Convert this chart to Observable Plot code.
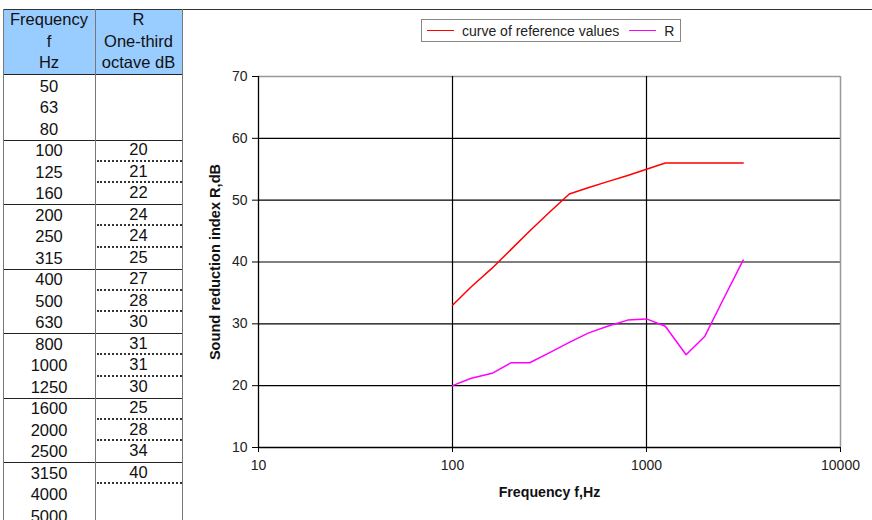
<!DOCTYPE html>
<html><head><meta charset="utf-8">
<script src="https://cdn.jsdelivr.net/npm/d3@7"></script>
<script src="https://cdn.jsdelivr.net/npm/@observablehq/plot@0.6"></script>
<style>
body{margin:0;background:#fff;font-family:"Liberation Sans",Arial,sans-serif;}
#page{position:relative;width:872px;height:520px;overflow:hidden;background:#fff;}
.cell{position:absolute;text-align:center;font-size:16.5px;color:#111;line-height:21.5px;white-space:nowrap;}
.ln{position:absolute;}
#legend{position:absolute;left:421px;top:19px;width:258px;height:21px;border:1px solid #888;background:#fff;display:flex;align-items:center;font-size:14px;color:#222;white-space:nowrap;}
#legend .sw{display:inline-block;width:27px;height:0;border-top:1.5px solid;}
#chart{position:absolute;left:183px;top:10px;}
</style></head><body><div id="page"><div id="chart"></div><div id="legend"></div></div>
<script>
// Table data
const tableFreq = [50,63,80,100,125,160,200,250,315,400,500,630,800,1000,1250,1600,2000,2500,3150,4000,5000];
const tableR = [null,null,null,20,21,22,24,24,25,27,28,30,31,31,30,25,28,34,40,null,null];
const headerFreq = ["Frequency","f","Hz"];
const headerR = ["R","One-third","octave dB"];
// Chart data
const chartFreq = [100,125,160,200,250,315,400,500,630,800,1000,1250,1600,2000,2500,3150];
const refValues = [33,36,39,42,45,48,51,52,53,54,55,56,56,56,56,56];
const rValues = [20,21.2,22,23.7,23.7,25.3,27,28.5,29.6,30.6,30.8,29.6,25,28,34.1,40.3];
const seriesNames = ["curve of reference values","R"];
const seriesColors = ["#FF0000","#FF00FF"];
const xTicks = [10,100,1000,10000];
const yTicks = [10,20,30,40,50,60,70];
const xTitle = "Frequency f,Hz";
const yTitle = "Sound reduction index R,dB";

const page = document.getElementById("page");
function add(cls, style, text){
  const d = document.createElement("div");
  d.className = cls;
  Object.assign(d.style, style);
  if (text != null) d.textContent = text;
  page.appendChild(d);
  return d;
}
// table geometry
const tL = 3, tM = 95, tR = 182, tTop = 9, hBot = 75, rowH = 21.5;
add("ln", {left:tL+"px", top:tTop+"px", width:(tR-tL)+"px", height:(hBot-tTop)+"px", background:"#99CCFF"});
headerFreq.forEach((t,i)=>add("cell",{left:tL+"px", width:(tM-tL)+"px", top:(tTop+i*rowH)+"px"}, t));
headerR.forEach((t,i)=>add("cell",{left:tM+"px", width:(tR-tM)+"px", top:(tTop+i*rowH)+"px"}, t));
tableFreq.forEach((f,i)=>{
  const top = hBot + 0.5 + i*rowH;
  add("cell",{left:tL+"px", width:(tM-tL)+"px", top:top+"px"}, String(f));
  if (tableR[i] != null) {
    add("cell",{left:tM+"px", width:(tR-tM)+"px", top:(top-1)+"px"}, String(tableR[i]));
    const bottom = top + rowH;
    if ((i+1) % 3 !== 0) {
      add("ln",{left:(tM+2)+"px", width:(tR-tM-2)+"px", top:(bottom-2)+"px", height:"0px", borderTop:"2px dotted #333"});
    }
  }
  if ((i+1) % 3 === 0) {
    add("ln",{left:tL+"px", width:(tR-tL)+"px", top:(hBot+i*rowH+rowH)+"px", height:"0px", borderTop:"1.3px solid #222"});
  }
});
add("ln",{left:tL+"px", width:(tR-tL)+"px", top:(hBot-1)+"px", height:"0px", borderTop:"1.3px solid #222"});
add("ln",{left:tL+"px", width:(872-tL)+"px", top:tTop+"px", height:"0px", borderTop:"1.5px solid #333"});
[tL, tM, tR].forEach(x=>add("ln",{left:(x-0.5)+"px", top:tTop+"px", width:"0px", height:(520-tTop)+"px", borderLeft:"1.5px solid #777"}));

// legend
const lg = document.getElementById("legend");
seriesNames.forEach((name,i)=>{
  const sw = document.createElement("span");
  sw.className = "sw";
  sw.style.borderTopColor = seriesColors[i];
  sw.style.marginLeft = i === 0 ? "5px" : "10px";
  sw.style.marginRight = "8px";
  lg.appendChild(sw);
  const t = document.createElement("span");
  t.textContent = name;
  lg.appendChild(t);
});

// chart
const refData = chartFreq.map((f,i)=>({f, v: refValues[i]}));
const rData = chartFreq.map((f,i)=>({f, v: rValues[i]}));
const chart = Plot.plot({
  width: 689, height: 510,
  marginLeft: 75, marginRight: 32, marginTop: 66, marginBottom: 73,
  style: {fontFamily: "'Liberation Sans', Arial, sans-serif", fontSize: "14px", color: "#222", background: "white", overflow: "visible"},
  x: {type: "log", domain: [10, 10000]},
  y: {domain: [10, 70]},
  marks: [
    Plot.ruleY(yTicks.filter(d => d > 10 && d < 70), {stroke: "#000", strokeWidth: 1.2, strokeOpacity: 1}),
    Plot.ruleY([70], {stroke: "#999", strokeWidth: 1.5}),
    Plot.ruleX(xTicks.filter(d => d > 10 && d < 10000), {stroke: "#000", strokeWidth: 1.2}),
    Plot.ruleX([10000], {stroke: "#999", strokeWidth: 1.5}),
    Plot.line(refData, {x: "f", y: "v", stroke: seriesColors[0], strokeWidth: 1.5}),
    Plot.line(rData, {x: "f", y: "v", stroke: seriesColors[1], strokeWidth: 1.5}),
    Plot.ruleX([10], {stroke: "#000", strokeWidth: 1.3}),
    Plot.ruleY([10], {stroke: "#000", strokeWidth: 1.3}),
    Plot.axisX({ticks: xTicks, tickFormat: d => String(d), tickSize: 5, tickPadding: 8, label: null, stroke: "#000", fontSize: 14, fill: "#222"}),
    Plot.axisY({ticks: yTicks, tickFormat: d => String(d), tickSize: 6, tickPadding: 5, label: null, stroke: "#000", fontSize: 14, fill: "#222"}),
    Plot.text([xTitle], {frameAnchor: "bottom", dy: 45, lineAnchor: "middle", textAnchor: "middle", fontWeight: "bold", fontSize: 14.2, fill: "#111"}),
    Plot.text([yTitle], {frameAnchor: "left", dx: -43, rotate: -90, textAnchor: "middle", lineAnchor: "middle", fontWeight: "bold", fontSize: 14.6, fill: "#111"})
  ]
});
document.getElementById("chart").appendChild(chart);
</script>
</body></html>
